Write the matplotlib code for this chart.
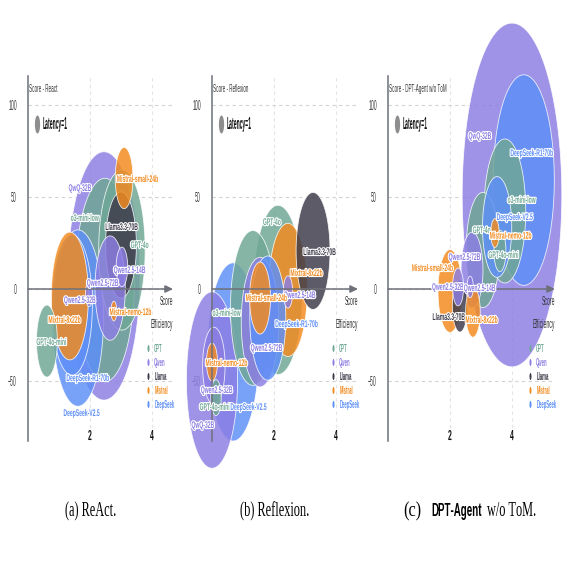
import os
import numpy as np
import matplotlib
matplotlib.use("Agg")
import matplotlib.pyplot as plt
from matplotlib.path import Path
from matplotlib.markers import MarkerStyle
from matplotlib.transforms import Affine2D
from matplotlib.lines import Line2D
from matplotlib import patheffects as pe
from matplotlib import font_manager
from matplotlib.font_manager import FontProperties

# ---------------- data ----------------
models = ["GPT-4o", "GPT-4o-mini", "o3-mini-low", "QwQ-32B", "Qwen2.5-72B",
          "Qwen2.5-32B", "Qwen2.5-14B", "Llama3.3-70B", "Mistral-small-24b",
          "Mistral-nemo-12b", "Mixtral-8x22b", "DeepSeek-V2.5", "DeepSeek-R1-70b"]
families = ["GPT", "GPT", "GPT", "Qwen", "Qwen", "Qwen", "Qwen", "Llama",
            "Mistral", "Mistral", "Mistral", "DeepSeek", "DeepSeek"]
family_names = ["GPT", "Qwen", "Llama", "Mistral", "DeepSeek"]
family_colors = ["#6fa795", "#8c7ee3", "#3d3b4a", "#f28b1f", "#5e8ff7"]

panel_titles = ["Score - React", "Score - Reflexion", "Score - DPT-Agent w/o ToM"]
y_ticks = [-50, 0, 50, 100]
x_ticks = [2, 4]

react_eff = [3.03, 0.61, 2.48, 2.45, 2.65, 1.97, 3.03, 3.00, 3.10, 2.77, 1.35, 1.61, 1.42]
react_score = [21.2, -28.3, 4.9, 7.1, 0.5, -2.7, 12.0, 23.9, 60.3, -12.0, -3.8, -15.8, -8.7]
react_latency = [8.9, 4.0, 11.3, 13.8, 5.8, 1.4, 2.2, 5.9, 3.4, 1.1, 7.1, 9.8, 7.8]

reflexion_eff = [2.13, 0.13, 1.32, 0.00, 1.55, 0.06, 2.45, 3.26, 1.55, 0.00, 2.45, 0.68, 1.80]
reflexion_score = [-0.5, -59.0, -10.3, -49.5, -18.0, -41.8, -1.6, 20.7, -4.9, -39.7, -0.5, -34.2, -15.8]
reflexion_latency = [9.4, 2.0, 8.6, 9.8, 7.2, 4.3, 1.8, 6.5, 4.0, 2.1, 7.4, 9.9, 6.9]

dpt_eff = [3.06, 3.61, 3.77, 4.00, 2.71, 2.26, 2.65, 2.32, 2.00, 3.45, 2.74, 3.52, 4.38]
dpt_score = [21.2, 20.7, 42.4, 51.1, 10.3, 1.1, 1.1, -9.2, -1.1, 30.4, -12.5, 33.7, 59.2]
dpt_latency = [6.4, 2.3, 8.0, 19.1, 4.2, 2.1, 1.2, 2.9, 4.6, 1.6, 2.8, 5.6, 11.7]

# label anchor positions (layout, data coordinates)
react_label_xy = [(3.61, 23.9), (0.77, -28.8), (1.84, 38.6), (1.68, 54.9), (2.42, 3.3),
                  (1.68, -6.0), (3.29, 10.3), (3.03, 33.7), (3.55, 59.8), (3.32, -12.5),
                  (1.19, -16.8), (1.74, -67.4), (1.94, -48.4)]
reflexion_label_xy = [(1.94, 36.4), (0.10, -64.1), (0.48, -13.0), (-0.29, -73.9), (1.77, -32.0),
                      (0.16, -54.9), (2.84, -3.3), (3.48, 20.1), (1.77, -4.9), (0.48, -40.2),
                      (3.06, 8.7), (1.19, -64.1), (2.74, -19.0)]
dpt_label_xy = [(3.03, 32.0), (3.74, 18.5), (4.32, 48.4), (2.97, 83.2), (2.48, 17.4),
                (1.94, 1.1), (2.97, 0.5), (1.97, -15.2), (1.45, 11.4), (3.97, 29.0),
                (3.03, -16.8), (4.10, 39.1), (4.65, 73.9)]

panels = [
    (react_eff, react_score, react_latency, react_label_xy),
    (reflexion_eff, reflexion_score, reflexion_latency, reflexion_label_xy),
    (dpt_eff, dpt_score, dpt_latency, dpt_label_xy),
]

# ---------------- layout ----------------
DPI = 100
FIG_PX = 572
PX_PER_X = 31.0
PX_PER_Y = 1.84
Y0_PX = 289
TOP_PX = 76
BOT_PX = 441
PANEL_X0 = [28, 212, 388]
PANEL_X1 = [173, 358, 555]
K_PX = 18.0       # bubble height (px) per unit latency
RATIO = 3.45      # height / width of the squashed bubbles

SANS = "Liberation Sans"
SERIF = "Liberation Serif"
CHARS = "".join(chr(c) for c in range(32, 127)) + "\u2212"


# ---------- horizontally condensed fonts (the reference figure is squashed) ----------
class Squash(pe.AbstractPathEffect):
    """Fallback: draw text horizontally condensed."""

    def __init__(self, sx, anchor="center", stroke=0.0, stroke_color="white"):
        super().__init__()
        self.sx, self.anchor, self.stroke, self.stroke_color = sx, anchor, stroke, stroke_color

    def draw_path(self, renderer, gc, tpath, affine, rgbFace=None):
        ext = tpath.get_extents()
        cx = {"left": 0.0, "right": ext.x1}.get(self.anchor, 0.5 * (ext.x0 + ext.x1))
        tr = Affine2D().translate(-cx, 0).scale(self.sx, 1.0).translate(cx, 0) + affine
        if self.stroke > 0:
            gc0 = renderer.new_gc()
            gc0.copy_properties(gc)
            gc0.set_linewidth(self.stroke)
            gc0.set_foreground(self.stroke_color)
            gc0.set_joinstyle("round")
            renderer.draw_path(gc0, tpath, tr, rgbFace)
            gc0.restore()
        renderer.draw_path(gc, tpath, tr, rgbFace)


_font_cache = {}


def condensed_font(family, weight, sx, size):
    key = (family, weight, round(sx, 3))
    path = _font_cache.get(key)
    if path is None:
        try:
            from fontTools.ttLib import TTFont
            from fontTools import subset
            src = font_manager.findfont(FontProperties(family=family, weight=weight),
                                        fallback_to_default=False)
            f = TTFont(src)
            opts = subset.Options()
            opts.hinting = False
            opts.layout_features = []
            opts.name_IDs = ["*"]
            opts.name_languages = ["*"]
            opts.notdef_outline = True
            sub = subset.Subsetter(options=opts)
            sub.populate(text=CHARS)
            sub.subset(f)
            glyf = f["glyf"]
            hmtx = f["hmtx"]
            for gname in f.getGlyphOrder():
                g = glyf[gname]
                if g.isComposite():
                    for c in g.components:
                        if hasattr(c, "x"):
                            c.x = int(round(c.x * sx))
                elif g.numberOfContours > 0:
                    coords = g.coordinates
                    for j in range(len(coords)):
                        x, y = coords[j]
                        coords[j] = (int(round(x * sx)), y)
                adv, lsb = hmtx[gname]
                hmtx[gname] = (int(round(adv * sx)), int(round(lsb * sx)))
            path = os.path.abspath("cond_%s_%s_%d.ttf" % (family.replace(" ", ""), weight,
                                                          int(round(sx * 1000))))
            f.save(path)
        except Exception:
            path = ""
        _font_cache[key] = path
    if path:
        return FontProperties(fname=path, size=size)
    return None


def style_text(t, family, weight, sx, size, anchor="center", stroke=0.0):
    fp = condensed_font(family, weight, sx, size)
    if fp is not None:
        t.set_fontproperties(fp)
        if stroke > 0:
            t.set_path_effects([pe.withStroke(linewidth=stroke, foreground="white")])
    else:
        t.set_fontfamily(family)
        t.set_fontweight(weight)
        t.set_fontsize(size)
        t.set_path_effects([Squash(sx, anchor, stroke)])
    return t


theta = np.linspace(0, 2 * np.pi, 120)
ELL = MarkerStyle(Path(np.column_stack([np.cos(theta) / RATIO, np.sin(theta)]), closed=True))


def px_to_pt(px):
    return px * 72.0 / DPI


fam_color = dict(zip(family_names, family_colors))

fig = plt.figure(figsize=(FIG_PX / DPI, FIG_PX / DPI), dpi=DPI)
fig.patch.set_facecolor("white")

for i, (eff, score, lat, lab_xy) in enumerate(panels):
    x0, x1 = PANEL_X0[i], PANEL_X1[i]
    ax = fig.add_axes([x0 / FIG_PX, 1 - BOT_PX / FIG_PX,
                       (x1 - x0) / FIG_PX, (BOT_PX - TOP_PX) / FIG_PX])
    ax.set_xlim(0, (x1 - x0) / PX_PER_X)
    ax.set_ylim((Y0_PX - BOT_PX) / PX_PER_Y, (Y0_PX - TOP_PX) / PX_PER_Y)
    ax.set_facecolor("none")

    def frac(px, py, x0=x0, x1=x1):
        return ((px - x0) / (x1 - x0), (BOT_PX - py) / (BOT_PX - TOP_PX))

    for s in ["top", "right", "bottom"]:
        ax.spines[s].set_visible(False)
    ax.spines["left"].set_color("#6e7079")
    ax.spines["left"].set_linewidth(1.1)

    ax.set_yticks(y_ticks)
    ax.set_xticks(x_ticks)
    ax.grid(True, axis="y", linestyle=(0, (3, 3)), color="#d2d2d2", linewidth=0.8, zorder=0)
    ax.grid(True, axis="x", linestyle=(0, (3, 3)), color="#e4e4e4", linewidth=0.8, zorder=0)
    ax.set_axisbelow(True)
    ax.tick_params(axis="y", length=0, pad=8, labelsize=11, labelcolor="#444444")
    ax.tick_params(axis="x", length=0, pad=-9, labelsize=11, labelcolor="#111111")
    for t in ax.get_yticklabels():
        style_text(t, SANS, "normal", 0.34, 11, "right")
    for t in ax.get_xticklabels():
        style_text(t, SANS, "bold", 0.44, 11, "center")

    # x axis line with arrow through y = 0
    ax.annotate("", xy=(ax.get_xlim()[1], 0), xytext=(0, 0),
                arrowprops=dict(arrowstyle="-|>,head_length=0.45,head_width=0.22",
                                color="#6e7079", lw=1.1, shrinkA=0, shrinkB=0),
                annotation_clip=False, zorder=3)

    # bubbles, biggest first
    order = np.argsort(lat)[::-1]
    xs = np.array(eff)[order]
    ys = np.array(score)[order]
    sizes = (px_to_pt(K_PX * np.array(lat)[order])) ** 2
    cols = [fam_color[families[k]] for k in order]
    ax.scatter(xs, ys, s=sizes, c=cols, marker=ELL, alpha=0.84,
               edgecolors=(1, 1, 1, 0.85), linewidths=0.6, clip_on=False, zorder=2)

    # bubble labels
    for k in range(len(models)):
        lx, ly = lab_xy[k]
        t = ax.text(lx, ly, models[k], color=fam_color[families[k]],
                    ha="center", va="center", zorder=5, clip_on=False)
        style_text(t, SANS, "bold", 0.52, 7, "center", stroke=1.6)

    # axis names
    tx, ty = frac(x0 + 1, 89)
    t = ax.text(tx, ty, panel_titles[i], transform=ax.transAxes, color="#333333",
                ha="left", va="center")
    style_text(t, SANS, "normal", 0.41, 8, "left")
    tx, ty = frac(x1, 302)
    t = ax.text(tx, ty, "Score", transform=ax.transAxes, color="#333333",
                ha="right", va="center")
    style_text(t, SANS, "normal", 0.41, 9, "right")
    tx, ty = frac(x1, 325)
    t = ax.text(tx, ty, "Efficiency", transform=ax.transAxes, color="#333333",
                ha="right", va="center")
    style_text(t, SANS, "normal", 0.41, 9, "right")

    # latency size legend
    lat_handle = Line2D([], [], ls="", marker=ELL, markersize=px_to_pt(K_PX * 1.0),
                        markerfacecolor="#8e8e8e", markeredgecolor="none")
    bx, by = frac(x0 + 6, 117.5)
    leg1 = ax.legend([lat_handle], ["Latency=1"], loc="upper left", bbox_to_anchor=(bx, by),
                     frameon=False, borderpad=0, borderaxespad=0, handlelength=0.36,
                     handletextpad=0.15, prop=dict(family=SANS, weight="bold", size=12))
    for t in leg1.get_texts():
        t.set_color("#111111")
        style_text(t, SANS, "bold", 0.30, 12, "left")
    leg1.set_zorder(6)
    ax.add_artist(leg1)

    # family legend
    handles = [Line2D([], [], ls="", marker=ELL, markersize=px_to_pt(7),
                      markerfacecolor=c, markeredgecolor="none") for c in family_colors]
    bx, by = frac(x1 - 27, 343.5)
    leg2 = ax.legend(handles, family_names, loc="upper left", bbox_to_anchor=(bx, by),
                     frameon=False, borderpad=0, borderaxespad=0, handlelength=0.5,
                     handletextpad=0.35, labelspacing=0.42, labelcolor=family_colors,
                     prop=dict(family=SANS, weight="bold", size=7))
    for t in leg2.get_texts():
        style_text(t, SANS, "bold", 0.44, 7, "left")
    leg2.set_zorder(6)

# ---------------- captions ----------------
CAP_Y = 1 - 512 / FIG_PX
style_text(fig.text(90.5 / FIG_PX, CAP_Y, "(a) ReAct.", ha="center", va="center"),
           SERIF, "normal", 0.59, 15, "center")
style_text(fig.text(275 / FIG_PX, CAP_Y, "(b) Reflexion.", ha="center", va="center"),
           SERIF, "normal", 0.59, 15, "center")
style_text(fig.text(403 / FIG_PX, CAP_Y, "(c)", ha="left", va="center"),
           SERIF, "normal", 0.78, 15, "left")
style_text(fig.text(431 / FIG_PX, CAP_Y, "DPT-Agent", ha="left", va="center"),
           SANS, "bold", 0.52, 13.5, "left")
style_text(fig.text(487 / FIG_PX, CAP_Y, "w/o ToM.", ha="left", va="center"),
           SERIF, "normal", 0.59, 15, "left")

fig.savefig("out.png", dpi=DPI)
